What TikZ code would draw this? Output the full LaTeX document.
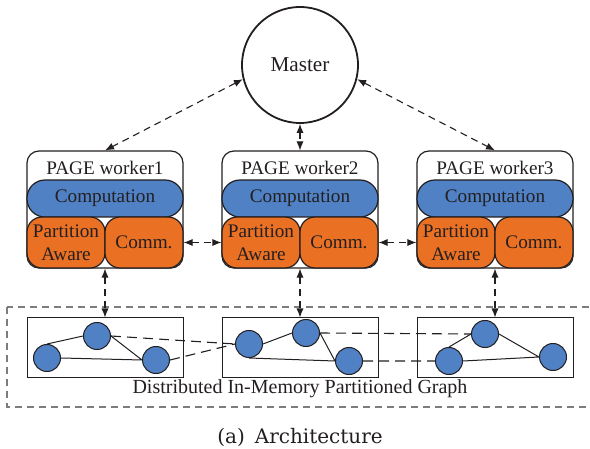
\documentclass[tikz,border=0pt]{standalone}
\usepackage{fontspec}
\setmainfont{Liberation Serif}
\newfontfamily\capfont{DejaVu Serif}
\usetikzlibrary{arrows.meta}
\definecolor{compblue}{RGB}{79,129,196}
\definecolor{partorange}{RGB}{234,112,36}
\definecolor{inkgray}{RGB}{35,31,32}
\definecolor{framegray}{RGB}{125,125,125}
\tikzset{
  worker/.style={draw=inkgray, line width=0.6pt, rounded corners=6pt, minimum width=78pt, minimum height=58.5pt},
  pill/.style={draw=inkgray, line width=0.6pt, fill=compblue, rounded corners=9pt, minimum width=78pt, minimum height=18.5pt, text=inkgray, font=\fontsize{9.6}{11}\selectfont},
  half/.style={draw=inkgray, line width=0.6pt, fill=partorange, rounded corners=7.5pt, minimum width=39pt, minimum height=25.5pt, inner sep=0pt, align=center, text=inkgray, font=\fontsize{9.6}{11.5}\selectfont},
  part/.style={draw=inkgray, line width=0.5pt, minimum width=78pt, minimum height=29.5pt},
  vtx/.style={circle, draw=inkgray, fill=compblue, line width=0.5pt, minimum size=13.5pt, inner sep=0pt},
  edge/.style={inkgray, line width=0.5pt},
  cross/.style={inkgray, line width=0.55pt, dash pattern=on 5pt off 3pt},
  link/.style={inkgray, line width=0.55pt, dash pattern=on 3.5pt off 2.5pt, {Latex[length=4.5pt,width=3.6pt]}-{Latex[length=4.5pt,width=3.6pt]}}
}
\begin{document}
\begin{tikzpicture}[x=0.5pt,y=-0.5pt]
\useasboundingbox (0,0) rectangle (590,449);
\node[circle, draw=inkgray, line width=0.9pt, minimum size=58pt, text=inkgray, font=\fontsize{10.6}{12}\selectfont] (master) at (300,65) {Master};

\foreach \i/\x in {1/105,2/300,3/495}{
\node[worker] (w\i) at (\x,209.5) {};
\node[text=inkgray, font=\fontsize{9.6}{11}\selectfont] (wl\i) at (\x,168) {PAGE worker\i};
\node[pill] (comp\i) at (\x,198.5) {Computation};
\node[half] (pa\i) at (\x-39,242.5) {Partition\\Aware};
\node[half] (cm\i) at (\x+39,242.5) {Comm.};
\node[part] (g\i) at (\x,347.5) {};}

\draw[framegray, line width=0.55pt, dash pattern=on 3.5pt off 2.5pt] (7,307) rectangle (600,407);

\foreach \n/\p in {a1/{47,358},b1/{97,336},c1/{156,360},a2/{249,344},b2/{306,333},c2/{349,361},a3/{485,334},b3/{449,361},c3/{553,357}}{
\node[vtx] (\n) at (\p) {};}

\draw[edge] (a1.north) -- (b1.west) (a1.east) -- (c1.west) (b1.east) -- (c1.west)
  (a2.east) -- (b2.west) (a2.south) -- (c2.west) (b2.east) -- (c2.west)
  (b3.north) -- (a3.west) (b3.east) -- (c3.west) (a3.east) -- (c3.west);
\draw[cross] (b1.east) -- (a2.west) (c1.east) -- (a2.west)
  (b2.east) -- (a3.west) (c2.east) -- (b3.west);

\draw[link] (master.194) -- (w1.north);
\draw[link] (master.south) -- (w2.north);
\draw[link] (master.-14) -- (w3.north);
\draw[link] (cm1.east) -- (pa2.west);
\draw[link] (cm2.east) -- (pa3.west);
\foreach \i in {1,2,3}{
\draw[link] (w\i.south) -- (g\i.north);}

\node[text=inkgray, font=\fontsize{10}{12}\selectfont] (glabel) at (300,389) {Distributed In-Memory Partitioned Graph};
\node[text=inkgray, font=\capfont\fontsize{10}{12}\selectfont] (caption) at (300,437) {(a)\enspace Architecture};
\end{tikzpicture}
\end{document}
